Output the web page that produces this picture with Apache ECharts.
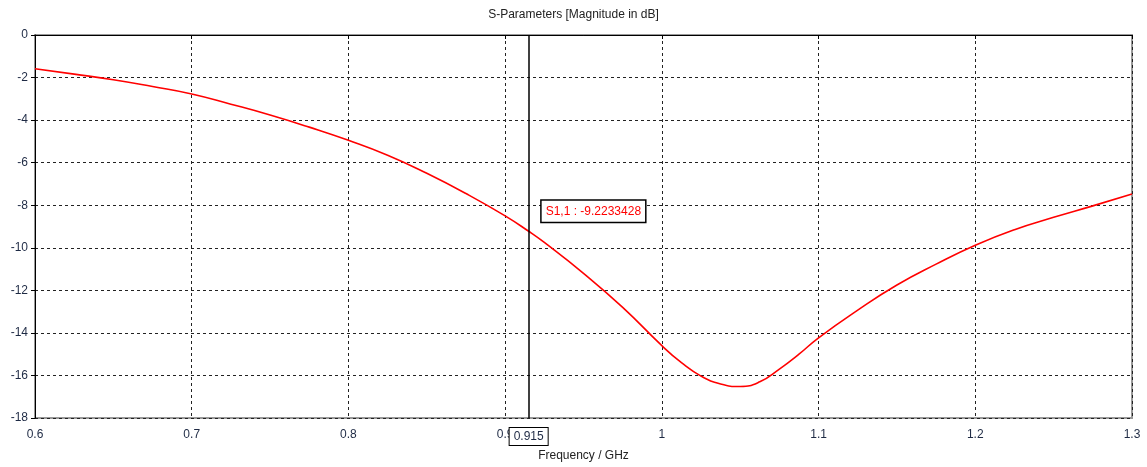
<!DOCTYPE html>
<html><head><meta charset="utf-8">
<script src="https://cdn.jsdelivr.net/npm/echarts@6/dist/echarts.min.js"></script>
<style>html,body{margin:0;padding:0;background:#fff}#c{width:1147px;height:467px}</style>
</head><body><div id="c"></div>
<script>
const freq = [0.6,0.625,0.65,0.675,0.7,0.725,0.75,0.775,0.8,0.825,0.85,0.875,0.9,0.915,0.925,0.95,0.975,1.0,1.0125,1.025,1.0375,1.05,1.0625,1.075,1.0875,1.1,1.125,1.15,1.175,1.2,1.225,1.25,1.275,1.3];
const s11 = [-1.59,-1.84,-2.1,-2.42,-2.77,-3.25,-3.76,-4.33,-4.95,-5.65,-6.5,-7.45,-8.5,-9.2233428,-9.75,-11.2,-12.8,-14.6,-15.4,-16.03,-16.4,-16.52,-16.3,-15.7,-15.0,-14.23,-12.93,-11.75,-10.77,-9.88,-9.15,-8.57,-8.03,-7.47];
const xTicks = [0.6,0.7,0.8,0.9,1,1.1,1.2,1.3];
const yTicks = [0,-2,-4,-6,-8,-10,-12,-14,-16,-18];
const markerFreq = 0.915;
const markerValue = -9.2233428;
const titleText = 'S-Parameters [Magnitude in dB]';
const xName = 'Frequency / GHz';

const font = '"Liberation Sans", Tahoma, sans-serif';
const chart = echarts.init(document.getElementById('c'));
chart.setOption({
  animation: false,
  title: {text: titleText, left: 'center', top: 4, textStyle: {fontSize: 12, fontWeight: 'normal', color: '#222', fontFamily: font}},
  grid: {left: 35, right: 15, top: 35, bottom: 48, show: true, borderColor: '#999', borderWidth: 2, backgroundColor: '#fff'},
  xAxis: {
    type: 'value', min: 0.6, max: 1.3, interval: 0.1,
    name: xName, nameLocation: 'middle', nameGap: 32,
    nameTextStyle: {fontSize: 12, color: '#222', fontFamily: font},
    axisLine: {show: true, lineStyle: {color: '#000', width: 1}},
    axisTick: {show: true, length: 4, lineStyle: {color: '#000'}},
    axisLabel: {fontSize: 12, color: '#1e2a44', fontFamily: font, margin: 11,
      formatter: v => { const t = xTicks.find(x => Math.abs(x - v) < 1e-6); return t === undefined ? '' : String(t); }},
    splitLine: {show: true, lineStyle: {color: '#222', type: [3, 3], width: 1}}
  },
  yAxis: {
    type: 'value', min: -18, max: 0, interval: 2,
    axisLine: {show: true, lineStyle: {color: '#000', width: 1}},
    axisTick: {show: true, length: 4, lineStyle: {color: '#000'}},
    axisLabel: {fontSize: 12, color: '#1e2a44', fontFamily: font, margin: 7,
      formatter: v => { const t = yTicks.find(y => Math.abs(y - v) < 1e-6); return t === undefined ? '' : String(t); }},
    splitLine: {show: true, lineStyle: {color: '#222', type: [3, 3], width: 1}}
  },
  series: [{
    type: 'line', data: freq.map((f, i) => [f, s11[i]]), smooth: 0.5, showSymbol: false,
    lineStyle: {color: '#ff0000', width: 1.6}, z: 3,
    markLine: {
      silent: true, symbol: ['none', 'none'], precision: 4,
      lineStyle: {color: '#000', width: 1.5, type: 'solid'},
      label: {show: true, position: 'start', formatter: String(markerFreq), distance: 10,
        color: '#1e2a44', fontSize: 12, fontFamily: font, backgroundColor: '#fff',
        borderColor: '#000', borderWidth: 1, padding: [3, 4, 2, 4]},
      data: [{xAxis: markerFreq}]
    },
    markPoint: {
      silent: true, symbol: 'rect', symbolSize: 0,
      data: [{coord: [markerFreq, markerValue]}],
      label: {show: true, position: 'right', offset: [8, -20],
        formatter: 'S1,1 : ' + markerValue, color: '#ff0000', fontSize: 12, fontFamily: font,
        backgroundColor: '#fff', borderColor: '#000', borderWidth: 1.5, padding: [5, 4, 4, 4]}
    }
  }]
});
</script></body></html>
